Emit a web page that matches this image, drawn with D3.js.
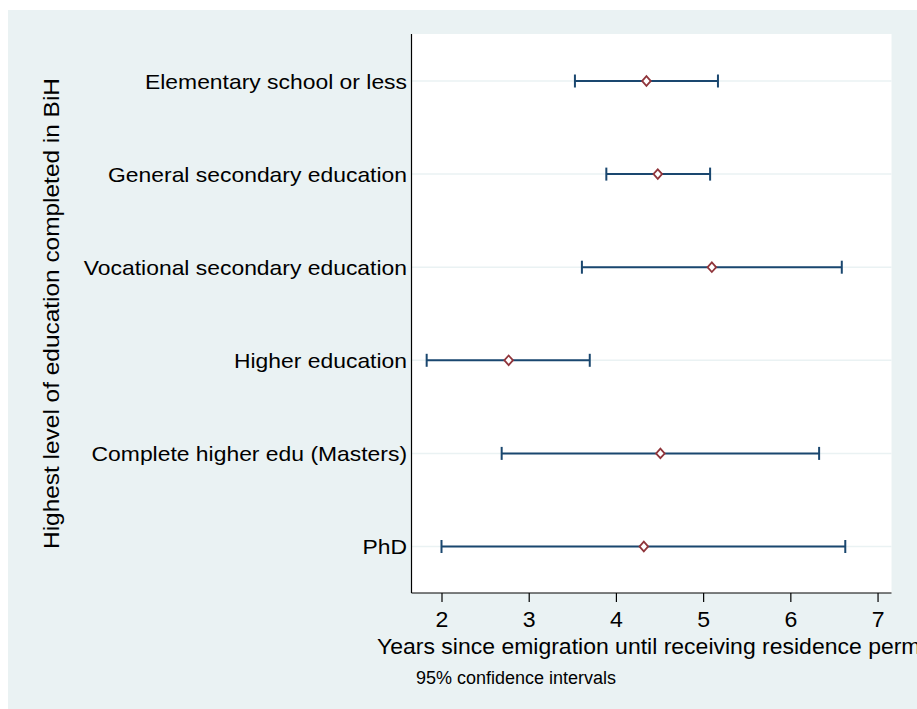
<!DOCTYPE html>
<html><head><meta charset="utf-8">
<script src="https://cdn.jsdelivr.net/npm/d3@7"></script>
<style>
html,body{margin:0;padding:0;background:#fff;}
svg{display:block;font-family:"Liberation Sans",Arial,Helvetica,sans-serif;}
</style></head>
<body>
<svg id="chart" width="917" height="709"></svg>
<script>
// ---- data ----
const categories = [
  "Elementary school or less",
  "General secondary education",
  "Vocational secondary education",
  "Higher education",
  "Complete higher edu (Masters)",
  "PhD"
];
const meanValues = [4.35, 4.48, 5.10, 2.77, 4.51, 4.32];
const lowerCI    = [3.53, 3.89, 3.61, 1.83, 2.69, 2.00];
const upperCI    = [5.17, 5.08, 6.59, 3.70, 6.33, 6.63];
const xTicks = [2, 3, 4, 5, 6, 7];
const xTitle = "Years since emigration until receiving residence permit";
const yTitle = "Highest level of education completed in BiH";
const note = "95% confidence intervals";

// ---- layout ----
const W = 917, H = 709;
const plot = {left: 411.5, right: 891.5, top: 34, bottom: 593};
const svg = d3.select("#chart");
const labStretch = 1.145;

svg.append("rect").attr("x", 8).attr("y", 10).attr("width", W - 8).attr("height", H - 10).attr("fill", "#eaf2f3");
svg.append("rect").attr("x", plot.left).attr("y", plot.top)
   .attr("width", plot.right - plot.left).attr("height", plot.bottom - plot.top).attr("fill", "#ffffff");

const x = d3.scaleLinear().domain([1.656, 7.16]).range([plot.left, plot.right]);
const y = d3.scalePoint().domain(categories).range([81, 546.5]);

const rows = categories.map((c, i) => ({c, m: meanValues[i], lo: lowerCI[i], hi: upperCI[i]}));

// gridlines
svg.append("g").selectAll("line").data(categories).join("line")
  .attr("x1", plot.left).attr("x2", plot.right)
  .attr("y1", d => y(d)).attr("y2", d => y(d))
  .attr("stroke", "#eaf2f3").attr("stroke-width", 1.5);

// x axis
const xAxis = d3.axisBottom(x).tickValues(xTicks).tickSize(9).tickPadding(4).tickFormat(d3.format("d"));
const gx = svg.append("g").attr("transform", `translate(0,${plot.bottom})`).call(xAxis);
gx.select(".domain").attr("d", `M${plot.left},0H${plot.right}`).attr("stroke", "#000").attr("stroke-width", 1.2);
gx.selectAll(".tick line").attr("stroke", "#000").attr("stroke-width", 1.2);
gx.selectAll(".tick text").attr("font-size", 22).attr("fill", "#000").attr("dy", null).attr("y", 34)
  .attr("font-family", "Liberation Sans, Arial, sans-serif")
  .attr("transform", "scale(1.05,1)");

// y axis
const yAxis = d3.axisLeft(y).tickSize(0).tickPadding(5);
const gy = svg.append("g").attr("transform", `translate(${plot.left},0)`).call(yAxis);
gy.select(".domain").attr("d", `M0,${plot.top}V${plot.bottom}`).attr("stroke", "#000").attr("stroke-width", 1.2);
gy.selectAll(".tick text").attr("font-size", 20).attr("fill", "#000").attr("dy", "0.35em")
  .attr("font-family", "Liberation Sans, Arial, sans-serif")
  .attr("transform", `scale(${labStretch},1)`)
  .attr("x", -4.5 / labStretch);

// error bars
const eb = svg.append("g").selectAll("g").data(rows).join("g");
eb.append("line").attr("x1", d => x(d.lo)).attr("x2", d => x(d.hi))
  .attr("y1", d => y(d.c)).attr("y2", d => y(d.c))
  .attr("stroke", "#1a476f").attr("stroke-width", 2);
eb.append("line").attr("x1", d => x(d.lo)).attr("x2", d => x(d.lo))
  .attr("y1", d => y(d.c) - 6.5).attr("y2", d => y(d.c) + 6.5)
  .attr("stroke", "#1a476f").attr("stroke-width", 2);
eb.append("line").attr("x1", d => x(d.hi)).attr("x2", d => x(d.hi))
  .attr("y1", d => y(d.c) - 6.5).attr("y2", d => y(d.c) + 6.5)
  .attr("stroke", "#1a476f").attr("stroke-width", 2);

// markers (hollow diamonds)
const diamond = d3.symbol().type(d3.symbolSquare).size(46);
eb.append("path").attr("d", diamond)
  .attr("transform", d => `translate(${x(d.m)},${y(d.c)}) scale(0.9,1) rotate(45)`)
  .attr("fill", "#ffffff").attr("stroke", "#90353b").attr("stroke-width", 1.9);

// titles
svg.append("text").attr("transform", `translate(377,654) scale(1.045,1)`)
  .attr("font-size", 22).attr("fill", "#000").text(xTitle);
svg.append("text").attr("transform", `translate(59,${(plot.top + plot.bottom) / 2}) rotate(-90) scale(1.11,1)`)
  .attr("text-anchor", "middle").attr("font-size", 22).attr("fill", "#000").text(yTitle);
svg.append("text").attr("x", 416).attr("y", 684)
  .attr("font-size", 18).attr("fill", "#000").text(note);
</script>
</body></html>
